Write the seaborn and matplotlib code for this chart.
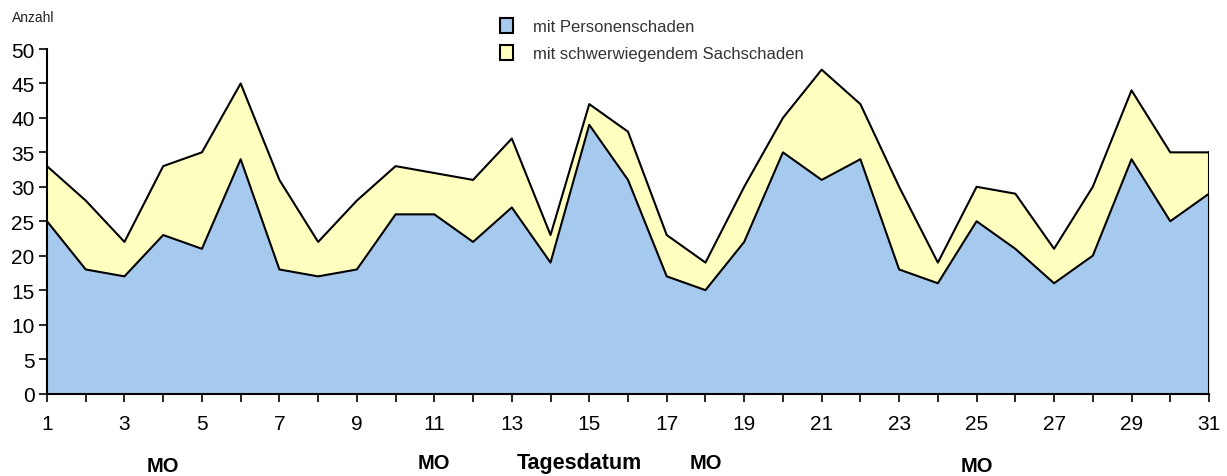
import numpy as np
import pandas as pd
import matplotlib
matplotlib.use("Agg")
import matplotlib.pyplot as plt
import matplotlib.transforms as mtransforms
from matplotlib.patches import Patch
import seaborn as sns

# daily counts (day of month)
days = list(range(1, 32))
personen = [25, 18, 17, 23, 21, 34, 18, 17, 18, 26, 26, 22, 27, 19, 39, 31,
            17, 15, 22, 35, 31, 34, 18, 16, 25, 21, 16, 20, 34, 25, 29]
gesamt = [33, 28, 22, 33, 35, 45, 31, 22, 28, 33, 32, 31, 37, 23, 42, 38,
          23, 19, 30, 40, 47, 42, 30, 19, 30, 29, 21, 30, 44, 35, 35]
montage = [4, 11, 18, 25]
labels = ["mit Personenschaden", "mit schwerwiegendem Sachschaden"]

df = pd.DataFrame({"Tag": days, "personen": personen, "gesamt": gesamt})

sns.set_style("ticks")
plt.rcParams["font.family"] = ["Liberation Sans", "DejaVu Sans"]

blue = "#A6C9EE"
yellow = "#FFFFC0"

fig = plt.figure(figsize=(12.27, 4.77), dpi=100)
ax = fig.add_axes([47 / 1227, 82.5 / 477, 1162 / 1227, 344.5 / 477])

ax.fill_between(df.Tag, 0, df.personen, color=blue, lw=0)
ax.fill_between(df.Tag, df.personen, df.gesamt, color=yellow, lw=0)
sns.lineplot(data=df, x="Tag", y="personen", color="black", lw=1.5, ax=ax)
sns.lineplot(data=df, x="Tag", y="gesamt", color="black", lw=1.5, ax=ax)
ax.plot([31, 31], [0, gesamt[-1]], color="black", lw=1.5)

ax.set_xlim(1, 31)
ax.set_ylim(0, 50)
ax.set_xticks(days)
ax.set_xticklabels([str(d) if d % 2 == 1 else "" for d in days])
ax.set_yticks(range(0, 51, 5))
ax.set_xlabel("")
ax.set_ylabel("")
sns.despine(ax=ax)
for side in ("left", "bottom"):
    ax.spines[side].set_linewidth(1.5)
    ax.spines[side].set_color("black")
ax.tick_params(axis="x", length=6, width=1.2, pad=9, labelsize=15,
               color="black", labelcolor="black")
ax.tick_params(axis="y", length=6, width=1.2, pad=3, labelsize=15,
               color="black", labelcolor="black")

fig.text(12 / 1227, 1 - 18 / 477, "Anzahl", fontsize=10, color="#222222", va="center")

trans = mtransforms.blended_transform_factory(ax.transData, ax.transAxes)
for i, d in enumerate(montage):
    yy = -0.208 if i in (0, 3) else -0.199
    ax.text(d, yy, "MO", transform=trans, ha="center", va="center",
            fontsize=14.5, fontweight="bold", color="black")
ax.text(14.75, -0.199, "Tagesdatum", transform=trans, ha="center", va="center",
        fontsize=15.5, fontweight="bold", color="black")

handles = [Patch(facecolor=blue, edgecolor="black", lw=1.5),
           Patch(facecolor=yellow, edgecolor="black", lw=1.5)]
leg = fig.legend(handles, labels, loc="upper left",
                 bbox_to_anchor=(500 / 1227, 1 - 19 / 477), frameon=False,
                 fontsize=12, handlelength=0.8, handleheight=1.0,
                 handletextpad=1.2, labelspacing=0.65, borderaxespad=0,
                 borderpad=0)
for t in leg.get_texts():
    t.set_color("#333333")

fig.savefig("out.png", dpi=100)
plt.close(fig)
